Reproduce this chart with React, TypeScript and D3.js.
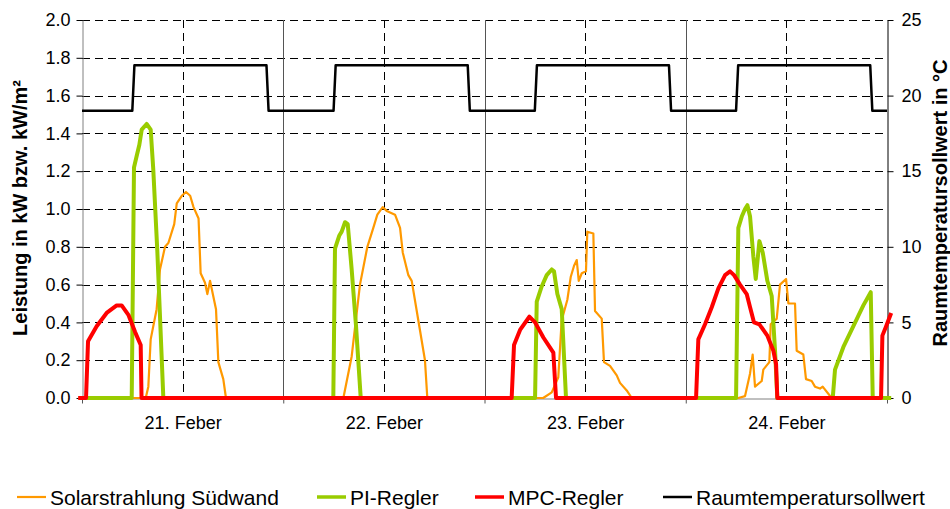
import React, { useEffect, useRef } from 'react';
import * as d3 from 'd3';

// time in hours from 21. Feber 00:00, values in kW (resp. kW/m²)
const solar: [number, number][] = [
  [-0.4, 0], [7.6, 0], [7.91, 0.06], [8.19, 0.31], [8.9, 0.47], [9.3, 0.68], [9.9, 0.8], [10.3, 0.82],
  [11.0, 0.92], [11.3, 1.03], [11.9, 1.07], [12.4, 1.09], [12.9, 1.07], [13.3, 1.01], [13.9, 0.95],
  [14.15, 0.66], [14.67, 0.61], [14.95, 0.55], [15.27, 0.62], [15.98, 0.47], [16.26, 0.19], [16.85, 0.1], [17.17, 0],
  [31.17, 0], [32.16, 0.22], [33.15, 0.6], [34.03, 0.8], [34.74, 0.9], [35.22, 0.97], [35.86, 1.01], [36.34, 0.99],
  [37.33, 0.97], [37.93, 0.9], [38.25, 0.77], [38.92, 0.65], [39.32, 0.62], [40.3, 0.36], [40.9, 0.2], [41.18, 0],
  [55.0, 0], [56.02, 0.03], [56.8, 0.11], [57.2, 0.41], [57.88, 0.52], [58.28, 0.64], [58.68, 0.7], [59.0, 0.73],
  [59.24, 0.62], [59.6, 0.66], [60.1, 0.67], [60.26, 0.88], [60.98, 0.87], [61.18, 0.46], [61.98, 0.42],
  [62.25, 0.19], [62.97, 0.17], [63.77, 0.12], [64.16, 0.08], [64.96, 0.04], [65.56, 0],
  [78.27, 0], [79.07, 0.01], [79.67, 0.13], [79.98, 0.23], [80.26, 0.06], [81.06, 0.09], [81.25, 0.15],
  [81.97, 0.19], [82.13, 0.39], [82.85, 0.42], [83.24, 0.6], [83.96, 0.63], [84.24, 0.5], [85.03, 0.5],
  [85.23, 0.25], [86.02, 0.23], [86.34, 0.1], [87.02, 0.09], [87.41, 0.06], [88.01, 0.05], [88.33, 0.06],
  [89.4, 0], [96.4, 0],
];

const piRegler: [number, number][] = [
  [-0.4, 0], [5.93, 0], [6.2, 1.22], [6.52, 1.28], [6.84, 1.34], [7.12, 1.42], [7.71, 1.45], [8.19, 1.42],
  [8.5, 1.21], [8.98, 0.78], [9.7, 0],
  [29.97, 0], [30.17, 0.79], [30.69, 0.86], [30.97, 0.88], [31.37, 0.93], [31.69, 0.92], [32.16, 0.68],
  [32.68, 0.38], [33.24, 0],
  [54.03, 0], [54.23, 0.51], [54.82, 0.59], [55.42, 0.65], [56.02, 0.68], [56.29, 0.67], [56.69, 0.55],
  [57.21, 0.47], [57.72, 0],
  [78.0, 0], [78.27, 0.9], [78.68, 0.96], [79.07, 1.0], [79.35, 1.02], [79.67, 0.96], [80.06, 0.75],
  [80.35, 0.63], [80.78, 0.83], [81.18, 0.77], [81.73, 0.62], [82.25, 0.54], [82.65, 0.25], [82.92, 0],
  [89.53, 0], [89.8, 0.15], [90.8, 0.27], [91.99, 0.38], [93.18, 0.49], [94.06, 0.56], [94.3, 0], [96.5, 0],
];

const mpcRegler: [number, number][] = [
  [-0.45, 0], [0.48, 0], [0.72, 0.3], [1.75, 0.38], [2.94, 0.45], [4.14, 0.49], [4.73, 0.49], [5.53, 0.44],
  [6.32, 0.35], [7.0, 0.28], [7.1, 0],
  [51.24, 0], [51.52, 0.28], [52.24, 0.36], [53.35, 0.43], [54.03, 0.4], [55.02, 0.32], [56.21, 0.24], [56.53, 0],
  [73.23, 0], [73.5, 0.31], [74.3, 0.39], [75.1, 0.48], [75.89, 0.58], [76.69, 0.65], [77.28, 0.67],
  [77.76, 0.65], [78.47, 0.6], [79.27, 0.55], [79.67, 0.48], [80.14, 0.4], [80.78, 0.39], [81.73, 0.33],
  [82.45, 0.25], [82.77, 0.18], [82.92, 0],
  [95.29, 0], [95.45, 0.33], [95.9, 0.38], [96.5, 0.45],
];

// Raumtemperatursollwert in °C
const sollwert: [number, number][] = [
  [0, 19], [6, 19], [6.25, 22], [22, 22], [22.25, 19],
  [30, 19], [30.25, 22], [46, 22], [46.25, 19],
  [54, 19], [54.25, 22], [70, 22], [70.25, 19],
  [78, 19], [78.25, 22], [94, 22], [94.25, 19], [96, 19],
];

const dayTicks = [0, 24, 48, 72, 96];
const noonTicks = [12, 36, 60, 84];
const dayLabels = ['21. Feber', '22. Feber', '23. Feber', '24. Feber'];
const leftTicks = [0, 0.2, 0.4, 0.6, 0.8, 1.0, 1.2, 1.4, 1.6, 1.8, 2.0];
const rightTicks = [0, 5, 10, 15, 20, 25];

const legendItems = [
  { name: 'Solarstrahlung Südwand', color: '#ff9900', w: 2.2, x: 17 },
  { name: 'PI-Regler', color: '#99cc00', w: 3.5, x: 317 },
  { name: 'MPC-Regler', color: '#ff0000', w: 3.5, x: 475 },
  { name: 'Raumtemperatursollwert', color: '#000000', w: 2.5, x: 663 },
];

const FONT = "Arial, 'Liberation Sans', sans-serif";

export default function App() {
  const svgRef = useRef<SVGSVGElement>(null);

  useEffect(() => {
    const svg = d3.select(svgRef.current);
    svg.selectAll('*').remove();

    const left = 82, right = 887, top = 20, bottom = 398;
    const x = d3.scaleLinear().domain([0, 96]).range([left, right]);
    const yL = d3.scaleLinear().domain([0, 2]).range([bottom, top]);
    const yR = d3.scaleLinear().domain([0, 25]).range([bottom, top]);

    // grid
    const grid = svg.append('g');
    grid.selectAll('line.h').data(leftTicks.filter(d => d > 0)).enter().append('line')
      .attr('x1', left).attr('x2', right)
      .attr('y1', d => Math.round(yL(d)) + 0.5).attr('y2', d => Math.round(yL(d)) + 0.5)
      .attr('stroke', '#000').attr('stroke-dasharray', '8,5');
    grid.selectAll('line.n').data(noonTicks).enter().append('line')
      .attr('x1', d => Math.round(x(d)) + 0.5).attr('x2', d => Math.round(x(d)) + 0.5)
      .attr('y1', top).attr('y2', bottom)
      .attr('stroke', '#000').attr('stroke-dasharray', '8,5');
    grid.selectAll('line.d').data(dayTicks.slice(1, -1)).enter().append('line')
      .attr('x1', d => Math.round(x(d)) + 0.5).attr('x2', d => Math.round(x(d)) + 0.5)
      .attr('y1', top).attr('y2', bottom)
      .attr('stroke', '#555');

    // axes
    const styleAxis = (g, domainColor) => {
      g.select('.domain').attr('stroke', domainColor);
      g.selectAll('.tick line').attr('stroke', '#000');
      g.selectAll('text').attr('font-family', FONT).attr('font-size', 18).attr('fill', '#000');
    };

    svg.append('g').attr('transform', `translate(0,${bottom + 0.5})`)
      .call(d3.axisBottom(x).tickValues(dayTicks).tickSize(5).tickSizeOuter(0).tickFormat(() => ''))
      .call(g => styleAxis(g, '#808080'))
      .call(g => g.selectAll('.tick line').attr('stroke', '#555'));

    svg.append('g').attr('transform', `translate(0,${bottom})`)
      .call(d3.axisBottom(x).tickValues(noonTicks).tickSize(0).tickPadding(18)
        .tickFormat((d, i) => dayLabels[i]))
      .call(g => styleAxis(g, 'none'));

    svg.append('g').attr('transform', `translate(${left + 0.5},0)`)
      .call(d3.axisLeft(yL).tickValues(leftTicks).tickSize(6).tickSizeOuter(0).tickPadding(6)
        .tickFormat(d3.format('.1f')))
      .call(g => styleAxis(g, '#808080'));

    svg.append('g').attr('transform', `translate(${right + 0.5},0)`)
      .call(d3.axisRight(yR).tickValues(rightTicks).tickSize(6).tickSizeOuter(0).tickPadding(8))
      .call(g => styleAxis(g, '#000'));

    // axis titles
    svg.append('text')
      .attr('transform', `translate(27,208) rotate(-90)`)
      .attr('text-anchor', 'middle').attr('font-family', FONT).attr('font-weight', 'bold')
      .attr('font-size', 20).text('Leistung in kW bzw. kW/m²');
    svg.append('text')
      .attr('transform', `translate(947,203) rotate(-90)`)
      .attr('text-anchor', 'middle').attr('font-family', FONT).attr('font-weight', 'bold')
      .attr('font-size', 20).text('Raumtemperatursollwert in °C');

    // series
    const lineL = d3.line<[number, number]>().x(d => x(d[0])).y(d => yL(d[1]));
    const lineR = d3.line<[number, number]>().x(d => x(d[0])).y(d => yR(d[1]));
    const series = [
      { data: solar, line: lineL, color: '#ff9900', w: 2.2 },
      { data: piRegler, line: lineL, color: '#99cc00', w: 4 },
      { data: mpcRegler, line: lineL, color: '#ff0000', w: 4 },
      { data: sollwert, line: lineR, color: '#000000', w: 2.5 },
    ];
    series.forEach(s => {
      svg.append('path').attr('d', s.line(s.data))
        .attr('fill', 'none').attr('stroke', s.color).attr('stroke-width', s.w)
        .attr('stroke-linejoin', 'round');
    });

    // legend
    const legend = svg.append('g');
    legendItems.forEach(it => {
      legend.append('line').attr('x1', it.x).attr('x2', it.x + 29).attr('y1', 497).attr('y2', 497)
        .attr('stroke', it.color).attr('stroke-width', it.w);
      legend.append('text').attr('x', it.x + 33).attr('y', 505)
        .attr('font-family', FONT).attr('font-size', 21).text(it.name);
    });
  }, []);

  return (
    <svg ref={svgRef} width={950} height={509}
      style={{ position: 'absolute', left: 0, top: 0, background: '#fff' }} />
  );
}
